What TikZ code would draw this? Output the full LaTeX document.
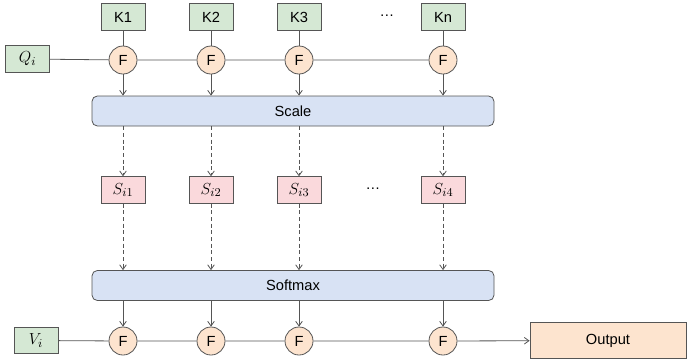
\documentclass[tikz,border=0pt]{standalone}
\usepackage{fontspec}
\setmainfont{Liberation Sans}
\usetikzlibrary{arrows.meta}
\definecolor{gfill}{HTML}{D5E8D4}
\definecolor{pfill}{HTML}{FAD9DC}
\definecolor{bfill}{HTML}{D8E2F4}
\definecolor{ofill}{HTML}{FDE4CF}
\definecolor{strk}{HTML}{555555}
\begin{document}
\begin{tikzpicture}[x=0.75pt,y=-0.75pt,
  box/.style={draw=strk,line width=0.6pt,minimum width=33pt,minimum height=20pt,inner sep=0pt,font=\fontsize{11}{13}\selectfont},
  kbox/.style={box,fill=gfill},
  sbox/.style={box,fill=pfill,font=\fontsize{12.5}{14}\selectfont},
  mbox/.style={kbox,font=\fontsize{12.5}{14}\selectfont},
  fc/.style={circle,draw=strk,line width=0.6pt,fill=ofill,minimum size=21pt,inner sep=0pt,font=\fontsize{11}{13}\selectfont},
  wide/.style={draw=strk,line width=0.6pt,fill=bfill,rounded corners=4pt,minimum width=301.5pt,minimum height=22.5pt,font=\fontsize{11}{13}\selectfont},
  ln/.style={draw=strk,line width=0.6pt},
  arr/.style={ln,-{Straight Barb[length=3.5pt,width=5pt]}},
  darr/.style={arr,dashed,dash pattern=on 3pt off 2pt}
]
\useasboundingbox (0,0) rectangle (688,362);
% K boxes
\node[kbox] (k1) at (123,17) {K1};
\node[kbox] (k2) at (211,17) {K2};
\node[kbox] (k3) at (299,17) {K3};
\node[font=\fontsize{11}{13}\selectfont] (kd) at (387,16) {\dots};
\node[kbox] (kn) at (443,17) {Kn};
% Q
\node[mbox] (q) at (27.5,59) {$Q_i$};
% top F
\node[fc] (f1) at (123,60) {F};
\node[fc] (f2) at (211,60) {F};
\node[fc] (f3) at (299,60) {F};
\node[fc] (fn) at (443,60) {F};
\draw[ln] (q) -- (f1) -- (f2) -- (f3) -- (fn);
\foreach \a/\b in {k1/f1,k2/f2,k3/f3,kn/fn} \draw[ln] (\a) -- (\b);
% Scale
\node[wide] (scale) at (293,111) {Scale};
\foreach \f in {f1,f2,f3,fn} \draw[arr] (\f) -- (\f |- scale.north);
% S boxes
\node[sbox] (s1) at (123,190) {$S_{i1}$};
\node[sbox] (s2) at (211,190) {$S_{i2}$};
\node[sbox] (s3) at (299,190) {$S_{i3}$};
\node[font=\fontsize{11}{13}\selectfont] (sd) at (373,189) {\dots};
\node[sbox] (s4) at (443,190) {$S_{i4}$};
\foreach \s in {s1,s2,s3,s4} \draw[darr] (\s |- scale.south) -- (\s);
% Softmax
\node[wide] (soft) at (293,285.5) {Softmax};
\foreach \s in {s1,s2,s3,s4} \draw[darr] (\s) -- (\s |- soft.north);
% bottom F
\node[mbox] (v) at (36,340.5) {$V_i$};
\node[fc] (g1) at (123,341) {F};
\node[fc] (g2) at (211,341) {F};
\node[fc] (g3) at (299,341) {F};
\node[fc] (gn) at (443,341) {F};
\draw[ln] (v) -- (g1) -- (g2) -- (g3) -- (gn);
\foreach \g in {g1,g2,g3,gn} \draw[arr] (\g |- soft.south) -- (\g);
% Output
\node[draw=strk,line width=0.6pt,fill=ofill,minimum width=117pt,minimum height=27.5pt,font=\fontsize{11}{13}\selectfont] (out) at (608,340.5) {Output};
\draw[arr] (gn) -- (out);
\end{tikzpicture}
\end{document}
